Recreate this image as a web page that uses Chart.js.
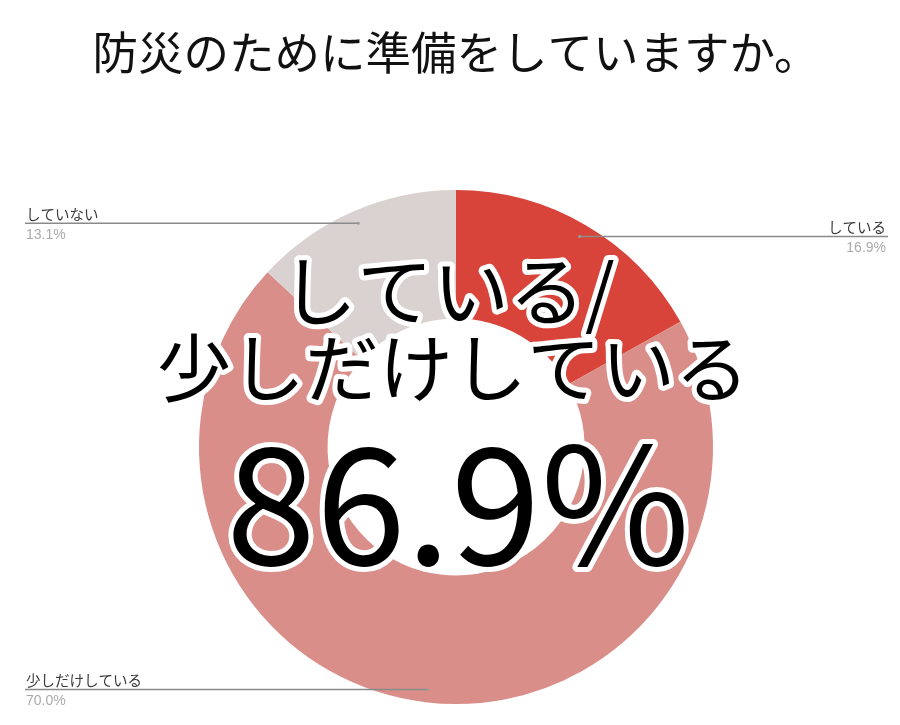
<!DOCTYPE html>
<html>
<head>
<meta charset="utf-8">
<script src="https://cdn.jsdelivr.net/npm/chart.js@4"></script>
<style>
  html, body { margin: 0; padding: 0; background: #fff; }
  .wrap { width: 900px; height: 725px; }
</style>
</head>
<body>
<div class="wrap"><canvas id="bousai"></canvas></div>
<script>
const categories = ["している", "少しだけしている", "していない"];
const shares = [16.9, 70.0, 13.1];
const sliceColors = ["#d9443a", "#d98e89", "#d9d2d0"];
const headline = ["している/", "少しだけしている"];

const jp = "'Noto Sans CJK JP', 'Noto Sans', sans-serif";

// leader lines + labels out to the edges
const leaderLabels = {
  id: "leaderLabels",
  afterDraw(chart) {
    const c = chart.ctx;
    const arcs = chart.getDatasetMeta(0).data;
    arcs.forEach((arc, i) => {
      const mid = (arc.startAngle + arc.endAngle) / 2;
      const r = arc.outerRadius * 0.95;
      const ax = arc.x + Math.cos(mid) * r;
      const ay = arc.y + Math.sin(mid) * r;
      const left = ax < arc.x;
      const ex = left ? 25 : 888;
      const tx = ex + (left ? 1 : -2);
      c.save();
      c.strokeStyle = "#8a8a8a";
      c.lineWidth = 1.5;
      c.beginPath();
      c.moveTo(ax, ay);
      c.lineTo(ex, ay);
      c.stroke();
      c.fillStyle = "#9a9a9a";
      c.beginPath();
      c.arc(ax, ay, 1.5, 0, Math.PI * 2);
      c.fill();
      c.textAlign = left ? "left" : "right";
      c.font = "14.5px " + jp;
      c.fillStyle = "#3a3a3a";
      c.textBaseline = "bottom";
      c.fillText(categories[i], tx, ay - 2);
      c.font = "14px 'Liberation Sans', Arial, sans-serif";
      c.fillStyle = "#aaa";
      c.textBaseline = "top";
      c.fillText(shares[i].toFixed(1) + "%", tx, ay + 5);
      c.restore();
    });
  }
};

// big outlined text in the middle
const centerText = {
  id: "centerText",
  afterDraw(chart) {
    const c = chart.ctx;
    const arc = chart.getDatasetMeta(0).data[0];
    const total = (shares[0] + shares[1]).toFixed(1) + "%";
    const lines = [
      { t: headline[0], dy: -156, dx: -8, f: "76px " + jp },
      { t: headline[1], dy: -79, dx: -3, f: "74px " + jp },
      { t: total, dy: 56, dx: 2, f: "162px " + jp }
    ];
    c.save();
    c.textAlign = "center";
    c.textBaseline = "middle";
    c.lineJoin = "round";
    lines.forEach(l => {
      c.font = l.f;
      c.strokeStyle = "#fff";
      c.lineWidth = 10;
      c.strokeText(l.t, arc.x + l.dx, arc.y + l.dy);
      c.fillStyle = "#000";
      c.fillText(l.t, arc.x + l.dx, arc.y + l.dy);
    });
    c.restore();
  }
};

new Chart(document.getElementById("bousai"), {
  type: "doughnut",
  data: {
    labels: categories,
    datasets: [
      {
        data: shares,
        backgroundColor: sliceColors,
        borderWidth: 0,
      },
    ],
  },
  options: {
    responsive: true,
    maintainAspectRatio: false,
    animation: false,
    cutout: "50%",
    layout: {
      padding: { top: 0, left: 12, right: 0, bottom: 21 },
    },
    plugins: {
      legend: { display: false },
      tooltip: { enabled: false },
      title: {
        display: true,
        text: "防災のために準備をしていますか。",
        color: "#111",
        font: { family: jp, size: 45.5, weight: "normal", lineHeight: 1.2 },
        padding: { top: 25, bottom: 110.4 },
      },
    },
  },
  plugins: [leaderLabels, centerText],
});
</script>
</body>
</html>
